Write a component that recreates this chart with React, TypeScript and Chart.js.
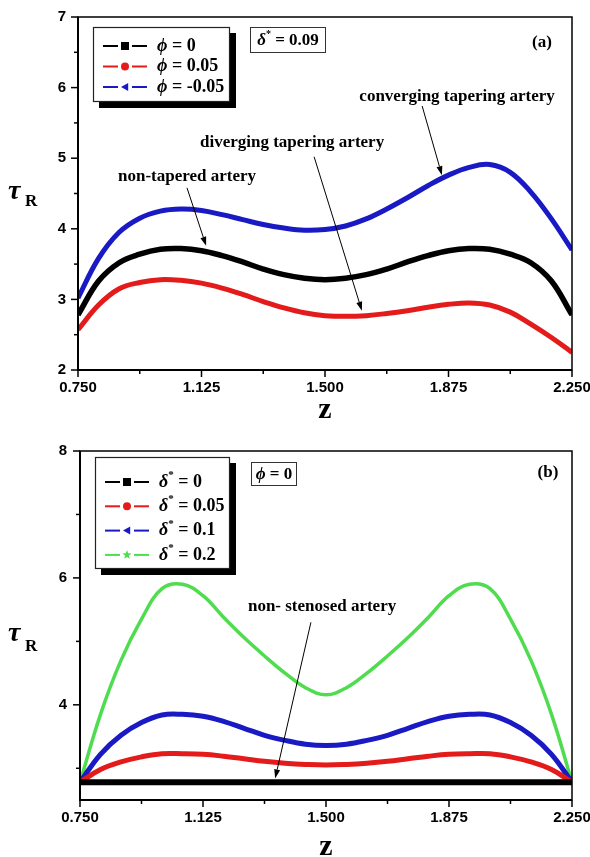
import React, { useEffect, useRef } from "react";
import { Chart, registerables } from "chart.js";

Chart.register(...registerables);

// Axial positions shared by every curve
const zValues = [
  0.75, 0.8125, 0.875, 0.9375, 1.0, 1.0625, 1.125, 1.1875, 1.25, 1.3125, 1.375, 1.4375, 1.5,
  1.5625, 1.625, 1.6875, 1.75, 1.8125, 1.875, 1.9375, 2.0, 2.0625, 2.125, 2.1875, 2.25,
];

// Panel (a): wall shear stress for three taper angles, delta* = 0.09
const tauPhiZero = [
  2.78, 3.26, 3.52, 3.64, 3.71, 3.72, 3.69, 3.62, 3.53, 3.43, 3.35, 3.3, 3.28,
  3.3, 3.35, 3.43, 3.53, 3.62, 3.69, 3.72, 3.71, 3.64, 3.52, 3.26, 2.78,
];
const tauPhiPlus = [
  2.57, 2.92, 3.15, 3.24, 3.28, 3.27, 3.23, 3.16, 3.07, 2.97, 2.88, 2.81, 2.77,
  2.76, 2.77, 2.8, 2.84, 2.89, 2.93, 2.95, 2.92, 2.82, 2.65, 2.46, 2.25,
];
const tauPhiMinus = [
  3.02, 3.58, 3.95, 4.15, 4.25, 4.28, 4.26, 4.2, 4.13, 4.06, 4.01, 3.98, 3.99,
  4.04, 4.14, 4.28, 4.44, 4.61, 4.76, 4.87, 4.91, 4.8, 4.52, 4.14, 3.7,
];

// Panel (b): wall shear stress for four stenosis heights, phi = 0
const tauDelta0 = [
  2.78, 2.78, 2.78, 2.78, 2.78, 2.78, 2.78, 2.78, 2.78, 2.78, 2.78, 2.78, 2.78,
  2.78, 2.78, 2.78, 2.78, 2.78, 2.78, 2.78, 2.78, 2.78, 2.78, 2.78, 2.78,
];
const tauDelta005 = [
  2.78, 2.98, 3.1, 3.18, 3.23, 3.23, 3.22, 3.19, 3.15, 3.11, 3.08, 3.06, 3.05,
  3.06, 3.08, 3.11, 3.15, 3.19, 3.22, 3.23, 3.23, 3.18, 3.1, 2.98, 2.78,
];
const tauDelta01 = [
  2.78, 3.22, 3.52, 3.72, 3.84, 3.85, 3.82, 3.74, 3.63, 3.52, 3.44, 3.38, 3.36,
  3.38, 3.44, 3.52, 3.63, 3.74, 3.82, 3.85, 3.84, 3.72, 3.52, 3.22, 2.78,
];
const tauDelta02 = [
  2.78, 3.85, 4.7, 5.35, 5.83, 5.9, 5.72, 5.38, 5.06, 4.77, 4.5, 4.27, 4.16,
  4.27, 4.5, 4.77, 5.06, 5.38, 5.72, 5.9, 5.83, 5.35, 4.7, 3.85, 2.78,
];

// Tick values
const zTicks = [0.75, 1.125, 1.5, 1.875, 2.25];
const zMinorTicks = [0.9375, 1.3125, 1.6875, 2.0625];
const tauTicksA = [2, 3, 4, 5, 6, 7];
const tauMinorA = [2.5, 3.5, 4.5, 5.5, 6.5];
const tauTicksB = [4, 6, 8];
const tauMinorB = [3, 5, 7];

const BLACK = "#000000";
const RED = "#e41b1b";
const BLUE = "#1a1ac4";
const GREEN = "#4fdc4f";

const SERIF = '"Liberation Serif", "Times New Roman", serif';
const SANS = '"Liberation Sans", Arial, sans-serif';

type Run = { t: string; i?: boolean; sup?: boolean };
const phiLabel = (v: string): Run[] => [{ t: "ϕ", i: true }, { t: " = " + v }];
const deltaLabel = (v: string): Run[] => [{ t: "δ", i: true }, { t: "*", sup: true }, { t: " = " + v }];

type Note = { text: string; at: [number, number]; from: [number, number]; to: [number, number] };

const panelA = {
  height: 428,
  top: 0,
  padTop: 17,
  padRight: 18,
  yWidth: 78,
  xHeight: 58,
  yMin: 2,
  yMax: 7,
  yTicks: tauTicksA,
  yMinor: tauMinorA,
  yLabelPad: 12,
  series: [
    { values: tauPhiZero, color: BLACK, width: 5.5, marker: "square", label: phiLabel("0") },
    { values: tauPhiPlus, color: RED, width: 5, marker: "circle", label: phiLabel("0.05") },
    { values: tauPhiMinus, color: BLUE, width: 5, marker: "triangle", label: phiLabel("-0.05") },
  ],
  legend: { dx: 15, dy: 10, w: 137, h: 75, firstRow: 19, rowGap: 20.5, font: 18 },
  info: { dx: 172, dy: 10, w: 76, h: 26, runs: deltaLabel("0.09") },
  tag: { text: "(a)", fromRight: 30, dy: 26 },
  notes: [
    { text: "converging tapering artery", at: [1.901, 5.867], from: [1.795, 5.74], to: [1.855, 4.76] },
    { text: "diverging tapering artery", at: [1.4, 5.215], from: [1.467, 5.02], to: [1.612, 2.84] },
    { text: "non-tapered artery", at: [1.081, 4.734], from: [1.081, 4.58], to: [1.139, 3.76] },
  ] as Note[],
  xTitleY: 418,
  yTitle: { x: 8, tauY: 199, subY: 206 },
};

const panelB = {
  height: 429,
  top: 428,
  padTop: 23,
  padRight: 18,
  yWidth: 80,
  xHeight: 57,
  yMin: 2.5,
  yMax: 8,
  yTicks: tauTicksB,
  yMinor: tauMinorB,
  yLabelPad: 13,
  series: [
    { values: tauDelta0, color: BLACK, width: 6, marker: "square", label: deltaLabel("0") },
    { values: tauDelta005, color: RED, width: 5, marker: "circle", label: deltaLabel("0.05") },
    { values: tauDelta01, color: BLUE, width: 5, marker: "triangle", label: deltaLabel("0.1") },
    { values: tauDelta02, color: GREEN, width: 3.5, marker: "star", label: deltaLabel("0.2") },
  ],
  legend: { dx: 15, dy: 6, w: 135, h: 112, firstRow: 25, rowGap: 24.3, font: 18 },
  info: { dx: 171, dy: 11, w: 46, h: 24, runs: phiLabel("0") },
  tag: { text: "(b)", fromRight: 24, dy: 22 },
  notes: [
    { text: "non- stenosed artery", at: [1.488, 5.54], from: [1.454, 5.3], to: [1.345, 2.84] },
  ] as Note[],
  xTitleY: 427,
  yTitle: { x: 8, tauY: 213, subY: 223 },
};

function runFont(r: Run, size: number) {
  const s = r.sup ? Math.round(size * 0.6) : size;
  return `${r.i ? "italic " : ""}bold ${s}px ${SERIF}`;
}

function drawRuns(ctx: CanvasRenderingContext2D, runs: Run[], x: number, y: number, size: number, center = false) {
  let w = 0;
  for (const r of runs) {
    ctx.font = runFont(r, size);
    w += ctx.measureText(r.t).width;
  }
  let cx = center ? x - w / 2 : x;
  ctx.textAlign = "left";
  ctx.textBaseline = "middle";
  ctx.fillStyle = "#000";
  for (const r of runs) {
    ctx.font = runFont(r, size);
    ctx.fillText(r.t, cx, r.sup ? y - size * 0.38 : y);
    cx += ctx.measureText(r.t).width;
  }
}

function drawMarker(ctx: CanvasRenderingContext2D, kind: string, x: number, y: number, r: number, color: string) {
  ctx.fillStyle = color;
  ctx.beginPath();
  if (kind === "square") {
    ctx.rect(x - r, y - r, 2 * r, 2 * r);
  } else if (kind === "circle") {
    ctx.arc(x, y, r, 0, Math.PI * 2);
  } else if (kind === "triangle") {
    ctx.moveTo(x - r, y);
    ctx.lineTo(x + r * 0.8, y - r);
    ctx.lineTo(x + r * 0.8, y + r);
    ctx.closePath();
  } else {
    for (let k = 0; k < 10; k++) {
      const ang = -Math.PI / 2 + (k * Math.PI) / 5;
      const rr = k % 2 === 0 ? r * 1.2 : r * 0.5;
      const px = x + rr * Math.cos(ang);
      const py = y + rr * Math.sin(ang);
      if (k === 0) ctx.moveTo(px, py);
      else ctx.lineTo(px, py);
    }
    ctx.closePath();
  }
  ctx.fill();
}

function line(ctx: CanvasRenderingContext2D, x1: number, y1: number, x2: number, y2: number) {
  ctx.beginPath();
  ctx.moveTo(x1, y1);
  ctx.lineTo(x2, y2);
  ctx.stroke();
}

function decorPlugin(spec: typeof panelA) {
  return {
    id: "decor",
    afterDraw(chart: any) {
      const { ctx, chartArea: a } = chart;
      const xs = chart.scales.x;
      const ys = chart.scales.y;
      ctx.save();
      ctx.strokeStyle = "#000";
      ctx.lineCap = "butt";

      // plot frame
      ctx.lineWidth = 1.5;
      ctx.strokeRect(a.left, a.top, a.right - a.left, a.bottom - a.top);
      ctx.lineWidth = 2;
      line(ctx, a.left, a.top, a.left, a.bottom + 1);
      line(ctx, a.left - 1, a.bottom, a.right, a.bottom);

      // outward ticks on the bottom and left axes
      ctx.lineWidth = 1.5;
      for (const v of zTicks) {
        const px = xs.getPixelForValue(v);
        line(ctx, px, a.bottom, px, a.bottom + 7);
      }
      for (const v of zMinorTicks) {
        const px = xs.getPixelForValue(v);
        line(ctx, px, a.bottom, px, a.bottom + 4);
      }
      for (const v of spec.yTicks) {
        const py = ys.getPixelForValue(v);
        line(ctx, a.left - 7, py, a.left, py);
      }
      for (const v of spec.yMinor) {
        const py = ys.getPixelForValue(v);
        line(ctx, a.left - 4, py, a.left, py);
      }

      // callouts with arrows
      ctx.lineWidth = 1;
      for (const n of spec.notes) {
        const tx = xs.getPixelForValue(n.at[0]);
        const ty = ys.getPixelForValue(n.at[1]);
        ctx.font = `bold 17px ${SERIF}`;
        ctx.fillStyle = "#000";
        ctx.textAlign = "center";
        ctx.textBaseline = "middle";
        ctx.fillText(n.text, tx, ty);
        const x1 = xs.getPixelForValue(n.from[0]);
        const y1 = ys.getPixelForValue(n.from[1]);
        const x2 = xs.getPixelForValue(n.to[0]);
        const y2 = ys.getPixelForValue(n.to[1]);
        const ang = Math.atan2(y2 - y1, x2 - x1);
        const hl = 9;
        const hw = 3;
        const bx = x2 - hl * Math.cos(ang);
        const by = y2 - hl * Math.sin(ang);
        line(ctx, x1, y1, bx, by);
        ctx.fillStyle = "#000";
        ctx.beginPath();
        ctx.moveTo(x2, y2);
        ctx.lineTo(bx + hw * Math.sin(ang), by - hw * Math.cos(ang));
        ctx.lineTo(bx - hw * Math.sin(ang), by + hw * Math.cos(ang));
        ctx.closePath();
        ctx.fill();
      }

      // legend box with drop shadow
      const L = spec.legend;
      const lx = a.left + L.dx;
      const ly = a.top + L.dy;
      ctx.fillStyle = "#000";
      ctx.fillRect(lx + 6, ly + 6, L.w, L.h);
      ctx.fillStyle = "#fff";
      ctx.fillRect(lx, ly, L.w, L.h);
      ctx.lineWidth = 1.2;
      ctx.strokeStyle = "#222";
      ctx.strokeRect(lx + 0.5, ly + 0.5, L.w - 1, L.h - 1);
      spec.series.forEach((s, k) => {
        const ry = ly + L.firstRow + k * L.rowGap;
        const sx = lx + 10;
        ctx.strokeStyle = s.color;
        ctx.lineWidth = 2;
        line(ctx, sx, ry, sx + 15, ry);
        line(ctx, sx + 29, ry, sx + 44, ry);
        drawMarker(ctx, s.marker, sx + 22, ry, 4, s.color);
        drawRuns(ctx, s.label, lx + 64, ry, L.font);
      });

      // parameter box
      const I = spec.info;
      const ix = a.left + I.dx;
      const iy = a.top + I.dy;
      ctx.fillStyle = "#fff";
      ctx.fillRect(ix, iy, I.w, I.h);
      ctx.strokeStyle = "#333";
      ctx.lineWidth = 1;
      ctx.strokeRect(ix + 0.5, iy + 0.5, I.w - 1, I.h - 1);
      drawRuns(ctx, I.runs, ix + I.w / 2, iy + I.h / 2 + 1, 17, true);

      // panel tag
      ctx.font = `bold 17px ${SERIF}`;
      ctx.fillStyle = "#000";
      ctx.textAlign = "center";
      ctx.textBaseline = "middle";
      ctx.fillText(spec.tag.text, a.right - spec.tag.fromRight, a.top + spec.tag.dy);

      // axis titles
      ctx.font = `bold 30px ${SERIF}`;
      ctx.textBaseline = "alphabetic";
      ctx.fillText("z", (a.left + a.right) / 2, spec.xTitleY);
      ctx.textAlign = "left";
      ctx.font = `italic bold 28px ${SERIF}`;
      ctx.fillText("τ", spec.yTitle.x, spec.yTitle.tauY);
      ctx.font = `bold 17px ${SERIF}`;
      ctx.fillText("R", spec.yTitle.x + 17, spec.yTitle.subY);

      ctx.restore();
    },
  };
}

function buildConfig(spec: typeof panelA) {
  const tickFont = { family: SANS, size: 15, weight: "bold" as const };
  return {
    type: "line" as const,
    data: {
      datasets: spec.series.map((s) => ({
        data: zValues.map((z, i) => ({ x: z, y: s.values[i] })),
        borderColor: s.color,
        backgroundColor: s.color,
        borderWidth: s.width,
        borderJoinStyle: "round" as const,
        pointRadius: 0,
        tension: 0.4,
        fill: false,
      })),
    },
    options: {
      animation: false as const,
      responsive: false,
      events: [],
      layout: { padding: { top: spec.padTop, right: spec.padRight, left: 0, bottom: 0 } },
      plugins: { legend: { display: false }, tooltip: { enabled: false }, title: { display: false } },
      scales: {
        x: {
          type: "linear" as const,
          min: 0.75,
          max: 2.25,
          grid: { display: false, drawTicks: false, tickLength: 0 },
          border: { display: false },
          ticks: { font: tickFont, color: "#000", padding: 9, maxRotation: 0, callback: (v: any) => Number(v).toFixed(3) },
          afterBuildTicks: (s: any) => {
            s.ticks = zTicks.map((v) => ({ value: v }));
          },
          afterFit: (s: any) => {
            s.height = spec.xHeight;
            s.paddingLeft = 0;
            s.paddingRight = 0;
          },
        },
        y: {
          type: "linear" as const,
          min: spec.yMin,
          max: spec.yMax,
          grid: { display: false, drawTicks: false, tickLength: 0 },
          border: { display: false },
          ticks: { font: tickFont, color: "#000", padding: spec.yLabelPad, callback: (v: any) => String(v) },
          afterBuildTicks: (s: any) => {
            s.ticks = spec.yTicks.map((v) => ({ value: v }));
          },
          afterFit: (s: any) => {
            s.width = spec.yWidth;
            s.paddingTop = 0;
            s.paddingBottom = 0;
          },
        },
      },
    },
    plugins: [decorPlugin(spec)],
  };
}

function Panel({ spec }: { spec: typeof panelA }) {
  const ref = useRef<HTMLCanvasElement | null>(null);
  useEffect(() => {
    if (!ref.current) return;
    const chart = new Chart(ref.current, buildConfig(spec) as any);
    return () => chart.destroy();
  }, [spec]);
  return (
    <canvas
      ref={ref}
      width={590}
      height={spec.height}
      style={{ position: "absolute", left: 0, top: spec.top, width: 590, height: spec.height }}
    />
  );
}

export default function App() {
  return (
    <div style={{ position: "absolute", left: 0, top: 0, width: 590, height: 857, background: "#fff" }}>
      <Panel spec={panelA} />
      <Panel spec={panelB as typeof panelA} />
    </div>
  );
}
